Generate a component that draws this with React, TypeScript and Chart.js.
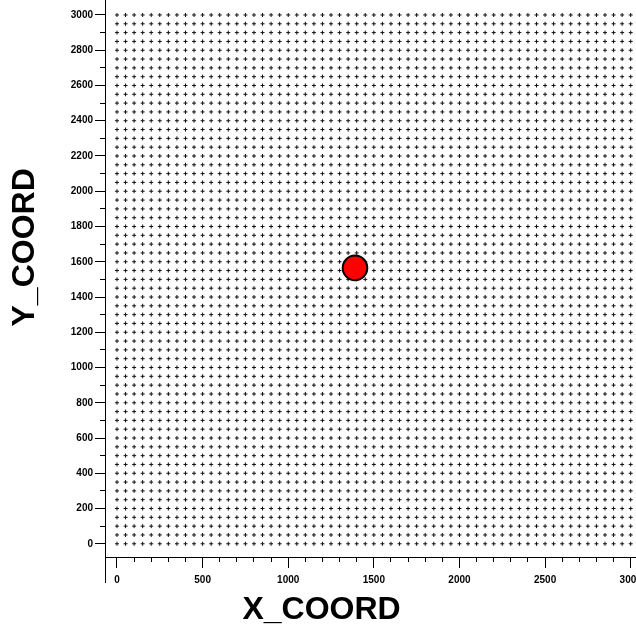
import { useEffect, useRef } from "react";
import { Chart, registerables } from "chart.js";

Chart.register(...registerables);

// Sampling grid nodes (50 m spacing in both directions)
const gridX = [
  0, 50, 100, 150, 200, 250, 300, 350, 400, 450, 500, 550, 600, 650, 700, 750,
  800, 850, 900, 950, 1000, 1050, 1100, 1150, 1200, 1250, 1300, 1350, 1400,
  1450, 1500, 1550, 1600, 1650, 1700, 1750, 1800, 1850, 1900, 1950, 2000, 2050,
  2100, 2150, 2200, 2250, 2300, 2350, 2400, 2450, 2500, 2550, 2600, 2650, 2700,
  2750, 2800, 2850, 2900, 2950, 3000,
];
const gridY = [
  0, 50, 100, 150, 200, 250, 300, 350, 400, 450, 500, 550, 600, 650, 700, 750,
  800, 850, 900, 950, 1000, 1050, 1100, 1150, 1200, 1250, 1300, 1350, 1400,
  1450, 1500, 1550, 1600, 1650, 1700, 1750, 1800, 1850, 1900, 1950, 2000, 2050,
  2100, 2150, 2200, 2250, 2300, 2350, 2400, 2450, 2500, 2550, 2600, 2650, 2700,
  2750, 2800, 2850, 2900, 2950, 3000,
];

// Highlighted location
const siteX = [1390];
const siteY = [1565];

// Axis ticks
const xLabelTicks = [0, 500, 1000, 1500, 2000, 2500, 3000];
const yLabelTicks = [
  0, 200, 400, 600, 800, 1000, 1200, 1400, 1600, 1800, 2000, 2200, 2400, 2600,
  2800, 3000,
];
const xMinorTicks = [
  0, 100, 200, 300, 400, 500, 600, 700, 800, 900, 1000, 1100, 1200, 1300, 1400,
  1500, 1600, 1700, 1800, 1900, 2000, 2100, 2200, 2300, 2400, 2500, 2600, 2700,
  2800, 2900, 3000,
];
const yMinorTicks = [
  0, 100, 200, 300, 400, 500, 600, 700, 800, 900, 1000, 1100, 1200, 1300, 1400,
  1500, 1600, 1700, 1800, 1900, 2000, 2100, 2200, 2300, 2400, 2500, 2600, 2700,
  2800, 2900, 3000,
];

// Axis extents (the frame sits a little outside the grid)
const xRange = [-70, 3031];
const yRange = [-75, 3085];

const FONT = "'Liberation Sans', Arial, sans-serif";

const fixTicks = (values: number[]) => (scale: any) => {
  scale.ticks = values.map((value) => ({ value }));
};

const noPadding = (scale: any) => {
  scale.paddingLeft = 0;
  scale.paddingRight = 0;
  scale.paddingTop = 0;
  scale.paddingBottom = 0;
};

// An extra axis that only contributes short tick marks on the frame line
const tickOnlyAxis = (
  position: "left" | "bottom",
  range: number[],
  values: number[],
  length: number,
  weight: number
) => ({
  type: "linear" as const,
  position,
  weight,
  min: range[0],
  max: range[1],
  afterBuildTicks: fixTicks(values),
  afterFit: (s: any) => {
    if (position === "left") s.width = 0;
    else s.height = 0;
    noPadding(s);
  },
  grid: {
    drawOnChartArea: false,
    drawTicks: true,
    tickLength: length,
    tickColor: "#000",
    tickWidth: 1,
  },
  border: { display: false },
  ticks: { display: false },
});

export default function App() {
  const canvasRef = useRef<HTMLCanvasElement | null>(null);

  useEffect(() => {
    if (!canvasRef.current) return;

    const nodes: { x: number; y: number }[] = [];
    for (const y of gridY) for (const x of gridX) nodes.push({ x, y });
    const site = siteX.map((x, i) => ({ x, y: siteY[i] }));

    const chart = new Chart(canvasRef.current, {
      type: "scatter",
      data: {
        datasets: [
          {
            label: "site",
            data: site,
            pointStyle: "circle",
            pointRadius: 12.3,
            backgroundColor: "#ff0000",
            borderColor: "#000",
            borderWidth: 2,
          },
          {
            label: "nodes",
            data: nodes,
            pointStyle: "cross",
            pointRadius: 2,
            borderColor: "#111",
            borderWidth: 1,
            backgroundColor: "#111",
          },
        ],
      },
      options: {
        responsive: false,
        animation: false,
        devicePixelRatio: 1,
        layout: { padding: 0, autoPadding: false },
        plugins: {
          legend: { display: false },
          tooltip: { enabled: false },
        },
        scales: {
          x: {
            type: "linear",
            position: "bottom",
            min: xRange[0],
            max: xRange[1],
            afterBuildTicks: fixTicks(xLabelTicks),
            afterFit: (s: any) => {
              s.height = 72;
              noPadding(s);
            },
            grid: {
              drawOnChartArea: false,
              drawTicks: true,
              tickLength: 11,
              tickColor: "#000",
              tickWidth: 1,
            },
            border: { display: true, color: "#000", width: 1 },
            ticks: {
              autoSkip: false,
              maxRotation: 0,
              padding: 6,
              color: "#000",
              font: { family: FONT, size: 10, weight: "bold" },
              callback: (v: any) => String(v),
            },
            title: {
              display: true,
              text: "X_COORD           ",
              color: "#000",
              font: { family: FONT, size: 32, weight: "bold" },
              padding: { top: 0, bottom: 0 },
            },
          },
          xMinor: tickOnlyAxis("bottom", xRange, xMinorTicks, 5, -1),
          xEdge: tickOnlyAxis("bottom", xRange, [xRange[0]], 26, -2),
          y: {
            type: "linear",
            position: "left",
            min: yRange[0],
            max: yRange[1],
            afterBuildTicks: fixTicks(yLabelTicks),
            afterFit: (s: any) => {
              s.width = 105;
              noPadding(s);
            },
            grid: {
              drawOnChartArea: false,
              drawTicks: true,
              tickLength: 10,
              tickColor: "#000",
              tickWidth: 1,
            },
            border: { display: true, color: "#000", width: 1 },
            ticks: {
              autoSkip: false,
              padding: 2,
              color: "#000",
              font: { family: FONT, size: 10, weight: "bold" },
              callback: (v: any) => String(v),
            },
            title: {
              display: true,
              text: "       Y_COORD",
              color: "#000",
              font: { family: FONT, size: 32, weight: "bold" },
              padding: { top: 6, bottom: 0 },
            },
          },
          yMinor: tickOnlyAxis("left", yRange, yMinorTicks, 5, -1),
        },
      } as any,
    });

    return () => chart.destroy();
  }, []);

  return (
    <div
      style={{
        position: "absolute",
        left: 0,
        top: 0,
        width: 636,
        height: 629,
        background: "#fff",
      }}
    >
      <canvas ref={canvasRef} width={636} height={629} />
    </div>
  );
}
